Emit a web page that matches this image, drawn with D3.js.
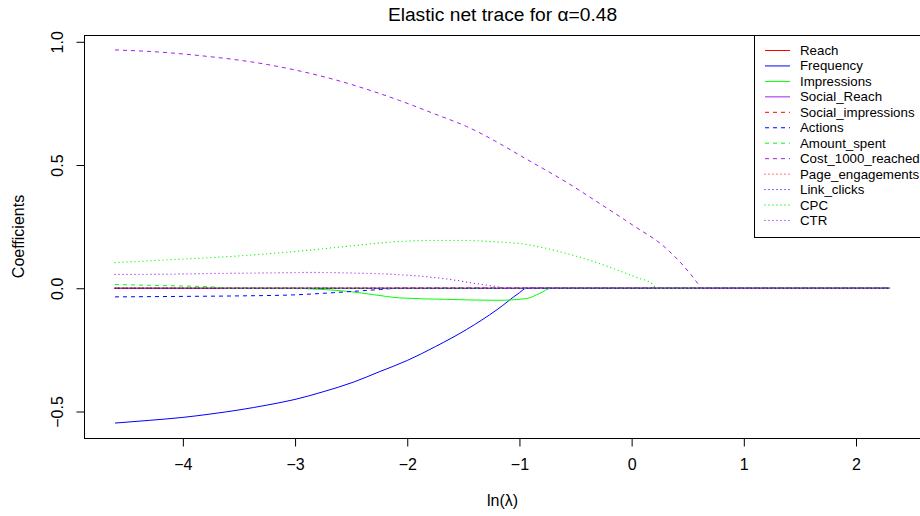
<!DOCTYPE html>
<html>
<head>
<meta charset="utf-8">
<script src="https://cdn.jsdelivr.net/npm/d3@7"></script>
<style>
  body { margin: 0; background: #ffffff; }
  svg { display: block; font-family: "Liberation Sans", Arial, Helvetica, sans-serif; }
</style>
</head>
<body>
<svg id="chart" width="920" height="516"></svg>
<script>
// Elastic net coefficient paths: each series is a list of [ln(lambda), coefficient]
const seriesNames = [
  "Reach", "Frequency", "Impressions", "Social_Reach",
  "Social_impressions", "Actions", "Amount_spent", "Cost_1000_reached",
  "Page_engagements", "Link_clicks", "CPC", "CTR"
];

const reach = [[-4.605, 0], [2.303, 0]];
const frequency = [
  [-4.605, -0.547], [-4.3, -0.536], [-4.0, -0.524], [-3.75, -0.510], [-3.49, -0.493],
  [-3.25, -0.474], [-3.0, -0.451], [-2.75, -0.420], [-2.48, -0.381], [-2.25, -0.339],
  [-2.0, -0.293], [-1.75, -0.237], [-1.47, -0.167], [-1.2, -0.087], [-1.0, -0.018],
  [-0.94, 0], [2.303, 0]
];
const impressions = [
  [-4.605, 0], [-3.02, 0], [-2.8, -0.004], [-2.54, -0.012], [-2.3, -0.026],
  [-2.07, -0.039], [-1.65, -0.045], [-1.2, -0.049], [-0.94, -0.042], [-0.82, -0.021],
  [-0.715, 0], [2.303, 0]
];
const socialReach = [[-4.605, 0], [2.303, 0]];
const socialImpressions = [[-4.605, 0], [2.303, 0]];
const actions = [
  [-4.605, -0.035], [-4.0, -0.033], [-3.5, -0.031], [-3.02, -0.027], [-2.66, -0.018],
  [-2.24, -0.005], [-2.07, 0], [2.303, 0]
];
const amountSpent = [
  [-4.605, 0.015], [-4.2, 0.011], [-3.73, 0.005], [-3.6, 0], [2.303, 0]
];
const cost1000Reached = [
  [-4.605, 0.967], [-4.2, 0.958], [-3.85, 0.944], [-3.25, 0.908], [-2.66, 0.848],
  [-2.07, 0.762], [-1.77, 0.710], [-1.47, 0.656], [-0.88, 0.509], [-0.58, 0.430],
  [-0.285, 0.344], [0.01, 0.256], [0.31, 0.161], [0.59, 0.019], [0.62, 0], [2.303, 0]
];
const pageEngagements = [[-4.605, 0], [2.303, 0]];
const linkClicks = [[-4.605, 0], [2.303, 0]];
const cpc = [
  [-4.605, 0.104], [-4.2, 0.114], [-3.73, 0.125], [-3.3, 0.138], [-2.96, 0.151],
  [-2.5, 0.172], [-2.07, 0.190], [-1.8, 0.194], [-1.5, 0.194], [-1.2, 0.188],
  [-0.97, 0.180], [-0.8, 0.166], [-0.58, 0.141], [-0.35, 0.110], [-0.14, 0.076],
  [0.05, 0.043], [0.19, 0.016], [0.22, 0], [2.303, 0]
];
const ctr = [
  [-4.605, 0.056], [-4.0, 0.058], [-3.73, 0.060], [-3.3, 0.062], [-2.84, 0.064],
  [-2.5, 0.062], [-2.1, 0.056], [-1.85, 0.048], [-1.62, 0.036], [-1.4, 0.020],
  [-1.18, 0.005], [-1.12, 0], [2.303, 0]
];

const seriesValues = [
  reach, frequency, impressions, socialReach,
  socialImpressions, actions, amountSpent, cost1000Reached,
  pageEngagements, linkClicks, cpc, ctr
];

// colours cycle every series, line type changes every four series
const lineColors = ["#FF0000", "#0000FF", "#00FF00", "#A020F0"];
const lineTypes = [
  { dash: null, cap: "butt", width: 1 },          // solid
  { dash: "4,4", cap: "butt", width: 1 },         // dashed
  { dash: "0.01,3.99", cap: "round", width: 1.3 } // dotted
];

const xTicks = [-4, -3, -2, -1, 0, 1, 2];
const yTicks = [-0.5, 0, 0.5, 1.0];

const titleText = "Elastic net trace for \u03B1=0.48";
const xLabel = "ln(\u03BB)";
const yLabel = "Coefficients";

// ---- layout ----
const plot = { left: 84, right: 921, top: 35, bottom: 438 };
const svg = d3.select("#chart");

// axis limits padded by 4% of the data range on each side
const allX = seriesValues.flat().map(d => d[0]);
const allY = seriesValues.flat().map(d => d[1]);
const pad = ([a, b]) => [a - 0.04 * (b - a), b + 0.04 * (b - a)];

const x = d3.scaleLinear().domain(pad(d3.extent(allX))).range([plot.left, plot.right]);
const y = d3.scaleLinear().domain(pad(d3.extent(allY))).range([plot.bottom, plot.top]);

const styleLine = (sel, i) => {
  const t = lineTypes[Math.floor(i / 4)];
  sel.attr("fill", "none")
    .attr("stroke", lineColors[i % 4])
    .attr("stroke-width", t.width)
    .attr("stroke-linecap", t.cap)
    .attr("stroke-dasharray", t.dash);
};

// paths
const line = d3.line().x(d => x(d[0])).y(d => y(d[1])).curve(d3.curveMonotoneX);
svg.append("clipPath").attr("id", "plot-clip")
  .append("rect")
  .attr("x", plot.left).attr("y", plot.top)
  .attr("width", plot.right - plot.left).attr("height", plot.bottom - plot.top);

const lines = svg.append("g").attr("clip-path", "url(#plot-clip)");
seriesValues.forEach((vals, i) => {
  lines.append("path").attr("d", line(vals)).call(styleLine, i);
});

// frame
svg.append("rect")
  .attr("x", plot.left + 0.5).attr("y", plot.top + 0.5)
  .attr("width", plot.right - plot.left).attr("height", plot.bottom - plot.top)
  .attr("fill", "none").attr("stroke", "#000").attr("stroke-width", 1);

// x axis
const xAxis = d3.axisBottom(x).tickValues(xTicks).tickSize(8).tickPadding(12)
  .tickFormat(d3.format("d"));
const gx = svg.append("g").attr("transform", `translate(0,${plot.bottom + 0.5})`).call(xAxis);
gx.select(".domain").remove();
gx.selectAll("line").attr("stroke", "#000");
gx.selectAll("text").attr("font-size", 16).attr("fill", "#000")
  .attr("font-family", "\"Liberation Sans\", Arial, sans-serif");

// y axis with labels rotated parallel to the axis
const yAxis = d3.axisLeft(y).tickValues(yTicks).tickSize(8).tickFormat(d3.format(".1f"));
const gy = svg.append("g").attr("transform", `translate(${plot.left + 0.5},0)`).call(yAxis);
gy.select(".domain").remove();
gy.selectAll("line").attr("stroke", "#000");
gy.selectAll(".tick text")
  .attr("font-size", 16).attr("fill", "#000")
  .attr("font-family", "\"Liberation Sans\", Arial, sans-serif")
  .attr("text-anchor", "middle")
  .attr("x", 0).attr("y", 0).attr("dy", null)
  .attr("dominant-baseline", "central")
  .attr("transform", `translate(${57 - plot.left - 0.5},0) rotate(-90)`);

// titles
svg.append("text")
  .attr("x", (plot.left + plot.right) / 2).attr("y", 14)
  .attr("text-anchor", "middle").attr("dominant-baseline", "central")
  .attr("font-size", 19.2).attr("fill", "#000")
  .text(titleText);

svg.append("text")
  .attr("x", (plot.left + plot.right) / 2).attr("y", 500)
  .attr("text-anchor", "middle").attr("dominant-baseline", "central")
  .attr("font-size", 16).attr("fill", "#000")
  .text(xLabel);

svg.append("text")
  .attr("transform", `translate(18,${(plot.top + plot.bottom) / 2}) rotate(-90)`)
  .attr("text-anchor", "middle").attr("dominant-baseline", "central")
  .attr("font-size", 16).attr("fill", "#000")
  .text(yLabel);

// legend in the top-right corner of the plot
const legend = svg.append("g");
const legendX = 754, legendTop = 35, rowH = 15.45;
legend.append("rect")
  .attr("x", legendX + 0.5).attr("y", legendTop + 0.5)
  .attr("width", plot.right - legendX).attr("height", 202)
  .attr("fill", "#fff").attr("stroke", "#000").attr("stroke-width", 1);

seriesNames.forEach((name, i) => {
  const ry = legendTop + 15.5 + i * rowH;
  legend.append("line")
    .attr("x1", legendX + 11).attr("x2", legendX + 36)
    .attr("y1", ry).attr("y2", ry)
    .call(styleLine, i);
  legend.append("text")
    .attr("x", legendX + 46).attr("y", ry)
    .attr("dominant-baseline", "central")
    .attr("font-size", 13.3).attr("fill", "#000")
    .text(name);
});
</script>
</body>
</html>
